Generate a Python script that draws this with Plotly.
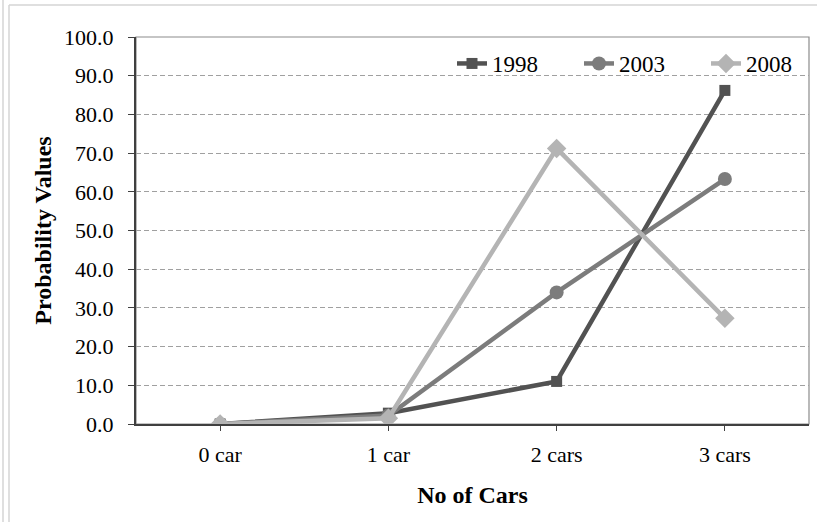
import plotly.graph_objects as go

categories = ["0 car", "1 car", "2 cars", "3 cars"]
y1998 = [0.0, 2.8, 11.0, 86.2]
y2003 = [0.0, 2.2, 34.0, 63.3]
y2008 = [0.0, 1.5, 71.2, 27.3]
ytick_vals = [0, 10, 20, 30, 40, 50, 60, 70, 80, 90, 100]
ytick_text = ["0.0", "10.0", "20.0", "30.0", "40.0", "50.0", "60.0", "70.0", "80.0", "90.0", "100.0"]

FONT = "Liberation Serif, Times New Roman, serif"

fig = go.Figure()
fig.add_trace(go.Scatter(x=categories, y=y1998, name="1998", mode="lines+markers",
                         line=dict(color="#525252", width=4.5),
                         marker=dict(symbol="square", size=11, color="#525252")))
fig.add_trace(go.Scatter(x=categories, y=y2003, name="2003", mode="lines+markers",
                         line=dict(color="#7c7c7c", width=4.5),
                         marker=dict(symbol="circle", size=14, color="#7c7c7c")))
fig.add_trace(go.Scatter(x=categories, y=y2008, name="2008", mode="lines+markers",
                         line=dict(color="#b4b4b4", width=4.5),
                         marker=dict(symbol="diamond", size=15, color="#b4b4b4")))

W, H = 817, 522
L, R, T, B = 136, 8, 37, 98
pw = W - L - R
ph = H - T - B

def px_x(p):
    return (p - L) / pw

def px_y(p):
    return 1 - (p - T) / ph

shapes = [
    dict(type="rect", xref="paper", yref="paper", x0=0, x1=1, y0=0, y1=1,
         line=dict(color="#8c8c8c", width=1.2), layer="below"),
    dict(type="line", xref="paper", yref="paper", x0=px_x(3), x1=px_x(3), y0=px_y(0), y1=px_y(522),
         line=dict(color="#d4d4d4", width=1.5)),
    dict(type="line", xref="paper", yref="paper", x0=px_x(9), x1=px_x(9), y0=px_y(5), y1=px_y(522),
         line=dict(color="#d4d4d4", width=1.5)),
    dict(type="line", xref="paper", yref="paper", x0=px_x(9), x1=px_x(817), y0=px_y(5), y1=px_y(5),
         line=dict(color="#d4d4d4", width=1.5)),
]

fig.update_layout(
    width=W, height=H,
    margin=dict(l=L, r=R, t=T, b=B, autoexpand=False),
    paper_bgcolor="white", plot_bgcolor="white",
    font=dict(family=FONT, size=22, color="black"),
    shapes=shapes,
    legend=dict(orientation="h", x=px_x(452), y=px_y(42), xanchor="left", yanchor="top",
                font=dict(family=FONT, size=23, color="black"),
                bgcolor="rgba(0,0,0,0)", entrywidth=82, entrywidthmode="pixels",
                itemwidth=30, tracegroupgap=0),
    xaxis=dict(type="category", categoryorder="array", categoryarray=categories,
               range=[-0.5, 3.5], automargin=False,
               showgrid=False, showline=True, linecolor="#404040", linewidth=2,
               ticks="outside", ticklen=5, tickcolor="#404040", tickwidth=1,
               ticklabelstandoff=5,
               tickfont=dict(family=FONT, size=22),
               title=dict(text="<b>No of Cars</b>", font=dict(family=FONT, size=24), standoff=20),
               zeroline=False, fixedrange=True),
    yaxis=dict(range=[0, 100], tickvals=ytick_vals, ticktext=ytick_text, automargin=False,
               showgrid=True, gridcolor="#a0a0a0", griddash="5px,3px", gridwidth=1,
               showline=True, linecolor="#404040", linewidth=2,
               ticks="outside", ticklen=6, tickcolor="#404040", tickwidth=1,
               ticklabelstandoff=10,
               tickfont=dict(family=FONT, size=22),
               title=dict(text="<b>Probability Values</b>", font=dict(family=FONT, size=24), standoff=6),
               zeroline=False, fixedrange=True),
)

fig.write_html("out.html", config={"displayModeBar": False},
               post_script="document.body.style.margin='0px';")
